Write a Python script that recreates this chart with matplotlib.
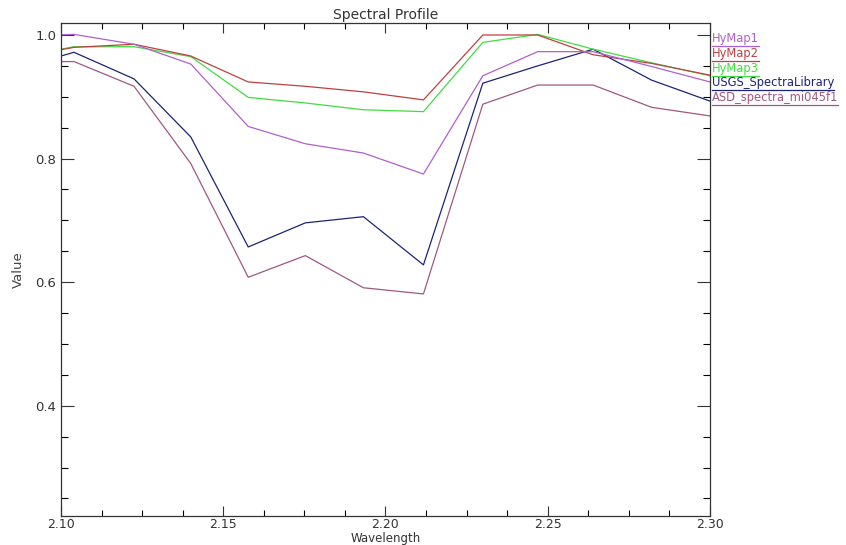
import matplotlib
matplotlib.use("Agg")
import matplotlib.pyplot as plt
from matplotlib.ticker import MultipleLocator
from matplotlib.lines import Line2D

# Wavelength (um) and profile values
wavelength = [2.086, 2.104, 2.1225, 2.140, 2.1577, 2.1753, 2.1932,
              2.2117, 2.230, 2.2469, 2.264, 2.282, 2.300]
hymap1 = [0.998, 1.001, 0.985, 0.953, 0.852, 0.824, 0.809,
          0.775, 0.934, 0.973, 0.973, 0.949, 0.924]
hymap2 = [0.963, 0.980, 0.985, 0.966, 0.924, 0.917, 0.908,
          0.895, 1.000, 1.000, 0.968, 0.954, 0.935]
hymap3 = [0.963, 0.981, 0.981, 0.965, 0.899, 0.890, 0.879,
          0.876, 0.988, 1.001, 0.977, 0.955, 0.934]
usgs = [0.945, 0.972, 0.929, 0.835, 0.657, 0.696, 0.706,
        0.628, 0.922, 0.950, 0.977, 0.927, 0.893]
asd = [0.957, 0.957, 0.917, 0.792, 0.608, 0.643, 0.591,
       0.581, 0.888, 0.919, 0.919, 0.883, 0.869]

names = ["HyMap1", "HyMap2", "HyMap3", "USGS_SpectraLibrary", "ASD_spectra_mi045f1"]
colors = ["#B060CC", "#C04040", "#40DD40", "#1C2478", "#A05880"]
series = [hymap1, hymap2, hymap3, usgs, asd]

plt.rcParams["font.family"] = ["DejaVu Sans"]

fig = plt.figure(figsize=(8.46, 5.45), dpi=100)
ax = fig.add_axes([0.0721, 0.0538, 0.7671, 0.904])

# draw the lowest layers first so the legend order matches
for vals, col in zip(series[::-1], colors[::-1]):
    ax.plot(wavelength, vals, color=col, linewidth=0.9)

ax.set_xlim(2.10, 2.30)
ax.set_ylim(0.2222, 1.0194)

ax.xaxis.set_major_locator(MultipleLocator(0.05))
ax.xaxis.set_minor_locator(MultipleLocator(0.0125))
ax.yaxis.set_major_locator(MultipleLocator(0.2))
ax.yaxis.set_minor_locator(MultipleLocator(0.05))
ax.xaxis.set_major_formatter(plt.FormatStrFormatter("%.2f"))
ax.yaxis.set_major_formatter(plt.FormatStrFormatter("%.1f"))

ax.tick_params(axis="x", which="major", direction="in", length=7, width=0.8,
               top=True, bottom=True, labelsize=9, pad=1.5, colors="#333333")
ax.tick_params(axis="x", which="minor", direction="in", length=4, width=0.8,
               top=True, bottom=True)
ax.tick_params(axis="y", which="major", direction="in", length=9.5, width=0.8,
               left=True, right=True, labelsize=9.5, pad=3.5, colors="#333333")
ax.tick_params(axis="y", which="minor", direction="in", length=5, width=0.8,
               left=True, right=True)
for s in ax.spines.values():
    s.set_color("#333333")
    s.set_linewidth(0.9)

ax.set_title("Spectral Profile", fontsize=10, pad=3, color="#333333")
ax.set_xlabel("Wavelength", fontsize=8.5, color="#333333", va="center")
ax.xaxis.set_label_coords(0.5, -0.047)
ax.set_ylabel("Value", fontsize=9.5, color="#444444", va="center")
ax.yaxis.set_label_coords(-0.066, 0.5)

# colored legend names with underline, placed right of the plot
legend_y = [0.929, 0.902, 0.875, 0.849, 0.822]
renderer = fig.canvas.get_renderer()
for name, col, yy in zip(names, colors, legend_y):
    t = fig.text(0.8415, yy, name, color=col, fontsize=8.3, va="center", ha="left")
    bb = t.get_window_extent(renderer).transformed(fig.transFigure.inverted())
    fig.add_artist(Line2D([bb.x0, bb.x1], [bb.y0 - 0.002, bb.y0 - 0.002],
                          color=col, linewidth=0.9, transform=fig.transFigure))

fig.savefig("out.png", dpi=100)
